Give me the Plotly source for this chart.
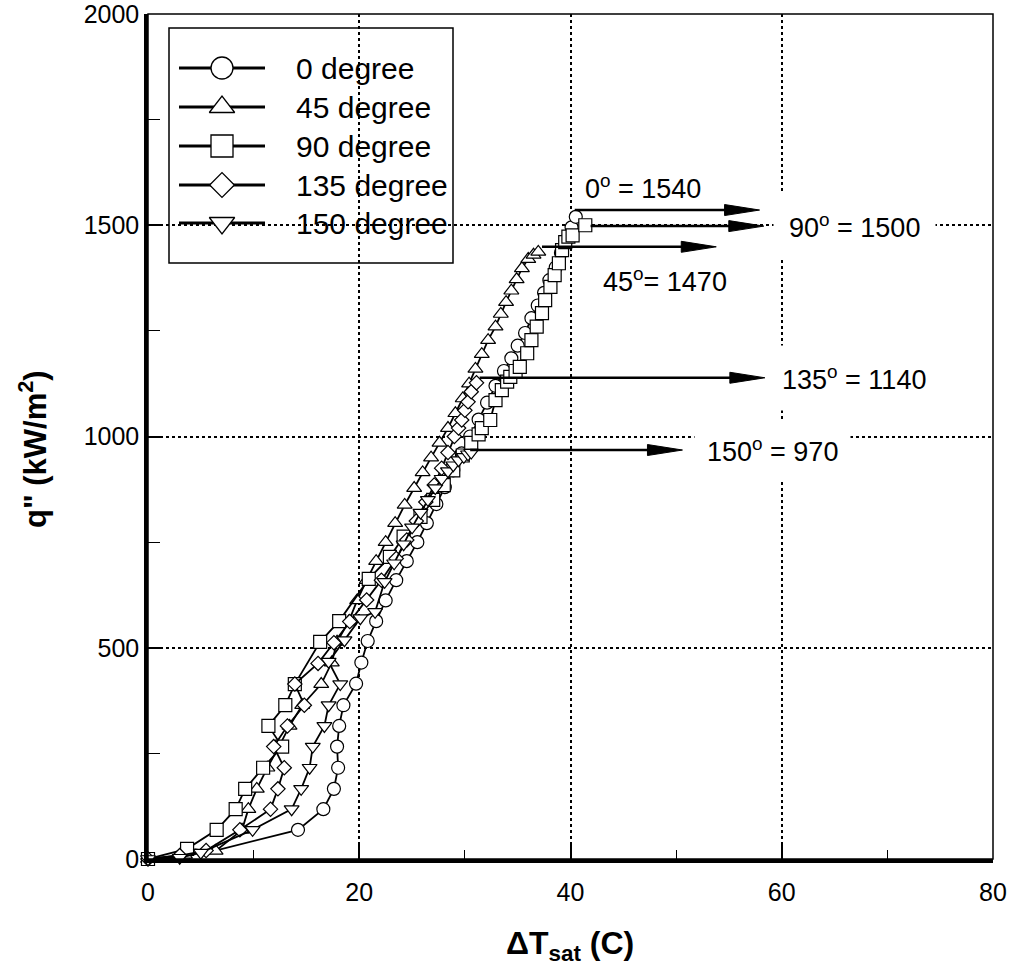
import plotly.graph_objects as go

# ---------------- data ----------------
x_0deg = [0, 4.5, 14.2, 16.6, 17.6, 18.0, 17.9, 18.1, 18.5, 19.7, 20.2, 20.8, 21.6, 22.5, 23.5,
          24.5, 25.5, 26.4, 27.3, 28.1, 28.9, 29.7, 30.5, 31.3, 32.1, 32.9, 33.7, 34.4, 35.0,
          35.7, 36.3, 36.9, 37.5, 38.0, 38.6, 39.1, 39.6, 40.1, 40.5]
q_0deg = [0, 8, 69, 118, 166, 216, 266, 315, 364, 415, 465, 516, 563, 612, 660,
          705, 750, 795, 840, 880, 920, 960, 1000, 1040, 1080, 1120, 1155, 1185, 1215,
          1245, 1280, 1310, 1340, 1370, 1400, 1435, 1465, 1495, 1520]

x_45deg = [0, 3.5, 6.4, 8.9, 9.5, 10.3, 11.3, 12.4, 13.4, 14.6, 16.4, 17.4, 17.9, 19.0, 19.8,
           20.7, 21.6, 22.5, 23.4, 24.3, 25.2, 26.0, 26.8, 27.6, 28.4, 29.1, 29.8, 30.4, 31.0,
           31.6, 32.2, 32.9, 33.4, 33.9, 34.4, 34.9, 35.4, 36.0, 36.5, 36.95]
q_45deg = [0, 10, 19, 69, 118, 166, 216, 266, 315, 364, 414, 465, 514, 562, 612,
           660, 705, 750, 795, 838, 878, 915, 950, 985, 1020, 1055, 1090, 1125, 1160,
           1195, 1228, 1260, 1290, 1318, 1345, 1372, 1398, 1420, 1430, 1437]

x_90deg = [0, 3.7, 6.5, 8.3, 9.2, 10.9, 12.7, 11.4, 13.0, 13.9, 16.3, 18.1, 20.9, 22.9, 24.2,
           25.8, 27.0, 28.0, 28.9, 29.8, 30.6, 31.3, 31.6, 32.4, 32.9, 33.5, 34.0, 34.3, 34.8,
           35.2, 35.9, 36.3, 36.8, 37.3, 37.6, 38.1, 38.5, 38.9, 39.2, 39.5, 39.8, 40.2, 41.4]
q_90deg = [0, 24, 69, 118, 166, 216, 266, 315, 364, 414, 514, 563, 663, 715, 763,
           810, 850, 885, 920, 955, 985, 1005, 1020, 1039, 1086, 1110, 1130, 1141, 1155,
           1165, 1197, 1228, 1260, 1292, 1323, 1354, 1382, 1410, 1441, 1460, 1473, 1476, 1500]

x_135deg = [0, 3.0, 5.5, 8.7, 11.6, 12.3, 12.9, 11.9, 13.2, 14.8, 13.9, 16.1, 17.6, 19.1, 20.7,
            22.1, 23.5, 24.5, 25.4, 26.3, 27.1, 27.8, 28.4, 29.0, 29.4, 29.7, 30.0, 30.3, 30.6,
            31.1]
q_135deg = [0, 8, 20, 69, 118, 166, 216, 266, 315, 364, 414, 463, 512, 562, 613,
            660, 711, 755, 800, 845, 885, 925, 962, 1000, 1020, 1039, 1062, 1082, 1106,
            1127]

x_150deg = [0, 3.0, 5.0, 9.9, 13.6, 14.5, 15.3, 15.6, 16.7, 17.1, 18.2, 17.1, 18.6, 20.1, 21.5,
            22.4, 23.3, 24.2, 25.0, 25.8, 26.5, 27.2, 27.8, 28.4, 28.9, 29.4, 29.9, 30.3, 30.6]
q_150deg = [0, 3, 15, 69, 118, 166, 216, 266, 315, 364, 414, 467, 518, 570, 585,
            656, 700, 745, 785, 820, 850, 878, 900, 918, 932, 944, 952, 958, 962]

series_names = ["0 degree", "45 degree", "90 degree", "135 degree", "150 degree"]
series_x = [x_0deg, x_45deg, x_90deg, x_135deg, x_150deg]
series_q = [q_0deg, q_45deg, q_90deg, q_135deg, q_150deg]

# CHF arrows: y level, start and end of the arrow (data units)
arrow_y = [1536, 1498, 1449, 1139, 968]
arrow_x0 = [40.4, 41.9, 37.3, 31.4, 30.5]
arrow_x1 = [57.9, 58.3, 53.8, 58.4, 50.6]

chf_labels = ["0<sup>o</sup> = 1540", "90<sup>o</sup> = 1500", "45<sup>o</sup>= 1470",
              "135<sup>o</sup> = 1140", "150<sup>o</sup> = 970"]
chf_label_x = [46.9, 66.9, 48.9, 66.8, 59.1]
chf_label_y = [1590, 1498, 1370, 1138, 968]

x_ticks = [0, 20, 40, 60, 80]
y_ticks = [0, 500, 1000, 1500, 2000]

# ---------------- styles ----------------
symbols = ["circle", "triangle-up", "square", "diamond", "triangle-down"]
sizes = [13, 13, 13, 11, 13]
leg_sizes = [22, 22, 22, 19, 22]
label_pads = [1, 15, 1, 15, 12]
FONT = "Arial, Liberation Sans, sans-serif"

W, H = 1013, 973
L, R, T, B = 148, 20, 14, 114
pw, ph = W - L - R, H - T - B
XR, YR = (0, 80), (0, 2000)

fig = go.Figure()

for nm, xs, qs, sym, sz in zip(series_names, series_x, series_q, symbols, sizes):
    fig.add_trace(go.Scatter(
        x=xs, y=qs, mode="lines+markers", name=nm, showlegend=False,
        line=dict(color="black", width=1.8),
        marker=dict(symbol=sym, size=sz, color="white",
                    line=dict(color="black", width=1.2)),
        cliponaxis=False))

def px2fx(px):
    return (px - L) / pw

def py2fy(py):
    return (H - B - py) / ph

# custom legend (overlay axis in 0..1 plot-fraction coords)
leg_rows = [68, 107, 146, 185, 223]
for nm, sym, sz, ry in zip(series_names, symbols, leg_sizes, leg_rows):
    fy = py2fy(ry)
    fig.add_trace(go.Scatter(
        x=[px2fx(179), px2fx(265)], y=[fy, fy], mode="lines",
        line=dict(color="black", width=3), xaxis="x2", yaxis="y2",
        showlegend=False, hoverinfo="skip"))
    fig.add_trace(go.Scatter(
        x=[px2fx(222)], y=[fy], mode="markers",
        marker=dict(symbol=sym, size=sz, color="white", line=dict(color="black", width=1.3)),
        xaxis="x2", yaxis="y2", showlegend=False, hoverinfo="skip"))
    fig.add_annotation(x=px2fx(294), y=fy, xref="x2", yref="y2", text=nm,
                       showarrow=False, xanchor="left", yanchor="middle",
                       font=dict(family=FONT, size=30, color="black"))

shapes = []
# legend box: white fill hides the grid, border on top
shapes.append(dict(type="rect", xref="paper", yref="paper",
                   x0=px2fx(169), x1=px2fx(453), y0=py2fy(263), y1=py2fy(28),
                   line=dict(color="black", width=1.5), fillcolor="white", layer="between"))
# thin frame (top/right)
shapes.append(dict(type="rect", xref="paper", yref="paper", x0=0, x1=1, y0=0, y1=1,
                   line=dict(color="black", width=1.5), layer="above"))

# arrows
HEAD_LEN_PX, HEAD_HALF_PX = 35, 5.5
xu = (XR[1] - XR[0]) / pw
yu = (YR[1] - YR[0]) / ph
for ay, ax0, ax1 in zip(arrow_y, arrow_x0, arrow_x1):
    shapes.append(dict(type="line", xref="x", yref="y", x0=ax0, x1=ax1 - HEAD_LEN_PX * xu * 0.5,
                       y0=ay, y1=ay, line=dict(color="black", width=2.5), layer="above"))
    hx = ax1 - HEAD_LEN_PX * xu
    path = (f"M {hx},{ay - HEAD_HALF_PX * yu} L {ax1},{ay} "
            f"L {hx},{ay + HEAD_HALF_PX * yu} Z")
    shapes.append(dict(type="path", xref="x", yref="y", path=path,
                       fillcolor="black", line=dict(color="black", width=1), layer="above"))

for txt, lx, ly, pad in zip(chf_labels, chf_label_x, chf_label_y, label_pads):
    fig.add_annotation(x=lx, y=ly, xref="x", yref="y", text=txt, showarrow=False,
                       font=dict(family=FONT, size=27, color="black"),
                       bgcolor="white", borderpad=pad)

# axis titles
fig.add_annotation(x=px2fx(33), y=py2fy(449), xref="paper", yref="paper", textangle=-90,
                   xanchor="center", yanchor="middle",
                   text="<b>q\" (kW/m<sup>2</sup>)</b>", showarrow=False,
                   font=dict(family=FONT, size=31, color="black"))
fig.add_annotation(x=px2fx(570), y=py2fy(945), xref="paper", yref="paper",
                   xanchor="center", yanchor="middle",
                   text="<b>ΔT<sub>sat</sub> (C)</b>", showarrow=False,
                   font=dict(family=FONT, size=32, color="black"))

axis_common = dict(showline=True, linecolor="black", linewidth=3.5, mirror=False,
                   ticks="inside", ticklen=14, tickwidth=1.5, tickcolor="black",
                   showgrid=True, gridcolor="black", gridwidth=1.5, griddash="dot",
                   zeroline=False, automargin=False, ticklabeloverflow="allow",
                   tickfont=dict(family=FONT, size=25, color="black"))

fig.update_layout(
    width=W, height=H, margin=dict(l=L, r=R, t=T, b=B, autoexpand=False),
    paper_bgcolor="white", plot_bgcolor="white", showlegend=False,
    shapes=shapes,
    xaxis=dict(range=list(XR), tickvals=x_ticks, ticklabelstandoff=8,
               minor=dict(tickvals=[10, 30, 50, 70], ticks="inside", ticklen=9,
                          tickcolor="black", tickwidth=1.2, showgrid=False),
               **axis_common),
    yaxis=dict(range=list(YR), tickvals=y_ticks, ticklabelstandoff=0,
               minor=dict(tickvals=[250, 750, 1250, 1750], ticks="inside", ticklen=12,
                          tickcolor="black", tickwidth=1.2, showgrid=False),
               **axis_common),
    xaxis2=dict(range=[0, 1], overlaying="x", visible=False, fixedrange=True),
    yaxis2=dict(range=[0, 1], overlaying="y", visible=False, fixedrange=True),
)

fig.write_html("out.html")
